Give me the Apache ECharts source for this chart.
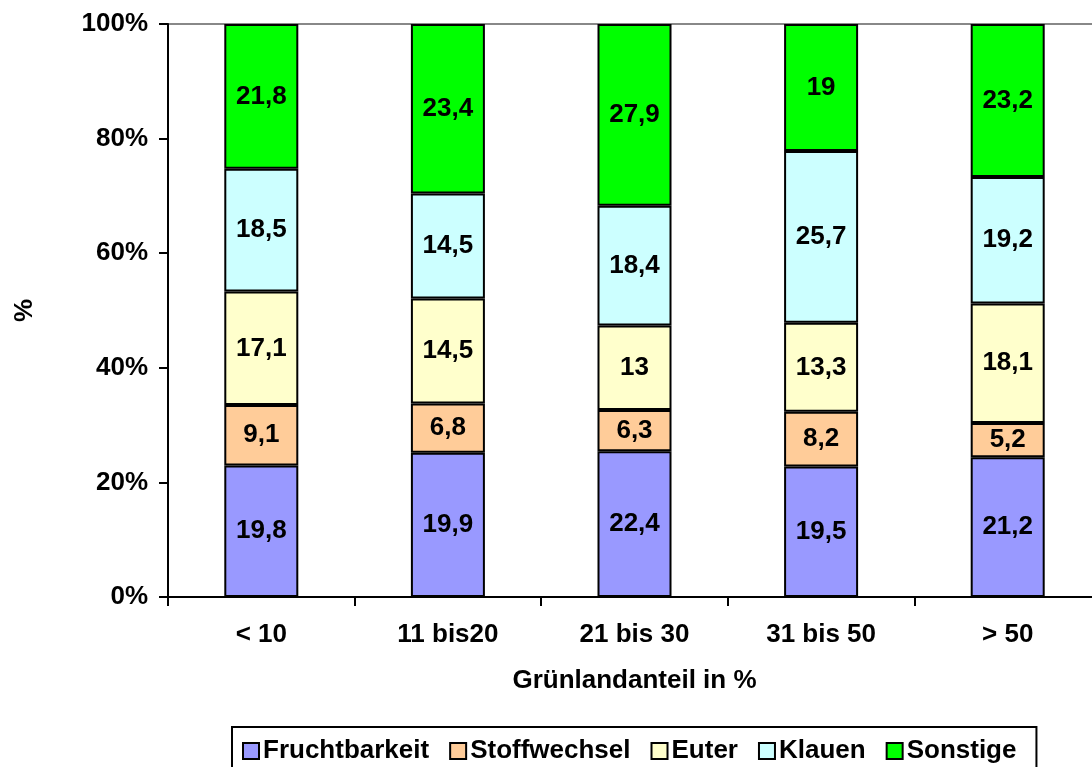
<!DOCTYPE html>
<html>
<head>
<meta charset="utf-8">
<script src="https://cdn.jsdelivr.net/npm/echarts@6/dist/echarts.min.js"></script>
<style>
  html, body { margin: 0; padding: 0; background: #fff; }
  #chart { width: 1092px; height: 767px; }
</style>
</head>
<body>
<div id="chart"></div>
<script>
const categories = ['< 10', '11 bis20', '21 bis 30', '31 bis 50', '> 50'];
const fruchtbarkeit = [19.8, 19.9, 22.4, 19.5, 21.2];
const stoffwechsel = [9.1, 6.8, 6.3, 8.2, 5.2];
const euter = [17.1, 14.5, 13, 13.3, 18.1];
const klauen = [18.5, 14.5, 18.4, 25.7, 19.2];
const sonstige = [21.8, 23.4, 27.9, 19, 23.2];
const yTicks = [0, 20, 40, 60, 80, 100];

const seriesDefs = [
  { name: 'Fruchtbarkeit', values: fruchtbarkeit, color: '#9999FF' },
  { name: 'Stoffwechsel', values: stoffwechsel, color: '#FFCC99' },
  { name: 'Euter', values: euter, color: '#FFFFCC' },
  { name: 'Klauen', values: klauen, color: '#CCFFFF' },
  { name: 'Sonstige', values: sonstige, color: '#00FF00' }
];

// totals per category, bars are drawn as share of 100%
const totals = categories.map((c, i) => seriesDefs.reduce((s, d) => s + d.values[i], 0));

const font = 'Liberation Sans, Arial, sans-serif';
const fs = 26;

const chart = echarts.init(document.getElementById('chart'), null, { renderer: 'canvas' });

chart.setOption({
  animation: false,
  textStyle: { fontFamily: font },
  grid: { left: 168, top: 24, width: 933, height: 573, containLabel: false, outerBoundsMode: 'none' },
  legend: {
    left: 232,
    top: 727,
    data: seriesDefs.map(d => d.name),
    itemWidth: 16,
    itemHeight: 16,
    itemGap: 20,
    padding: [11, 20, 8, 10],
    borderColor: '#000',
    borderWidth: 2,
    icon: 'rect',
    textStyle: { fontFamily: font, fontWeight: 'bold', fontSize: fs, color: '#000', padding: [0, 0, 0, -1] }
  },
  xAxis: {
    type: 'category',
    data: categories,
    name: 'Grünlandanteil in %',
    nameLocation: 'middle',
    nameGap: 71,
    nameTextStyle: { fontFamily: font, fontWeight: 'bold', fontSize: fs, color: '#000' },
    axisLine: { lineStyle: { color: '#000', width: 2 } },
    axisTick: { show: true, length: 9, lineStyle: { color: '#000', width: 2 } },
    axisLabel: { margin: 25, fontFamily: font, fontWeight: 'bold', fontSize: fs, color: '#000' }
  },
  yAxis: {
    type: 'value',
    min: yTicks[0],
    max: yTicks[yTicks.length - 1],
    interval: 20,
    name: '%',
    nameLocation: 'middle',
    nameGap: 130,
    nameRotate: 90,
    nameTextStyle: { fontFamily: font, fontWeight: 'bold', fontSize: fs, color: '#000' },
    axisLine: { show: true, lineStyle: { color: '#000', width: 2 } },
    axisTick: { show: true, length: 9, lineStyle: { color: '#000', width: 2 } },
    axisLabel: { margin: 20, fontFamily: font, fontWeight: 'bold', fontSize: fs, color: '#000', formatter: '{value}%' },
    splitLine: { show: true, lineStyle: { color: ['transparent', 'transparent', 'transparent', 'transparent', 'transparent', '#888'], width: 2 } }
  },
  series: seriesDefs.map(d => ({
    name: d.name,
    type: 'bar',
    stack: 'total',
    barWidth: 74,
    itemStyle: { color: d.color, borderColor: '#000', borderWidth: 2 },
    label: {
      show: true,
      position: 'inside',
      fontFamily: font,
      fontWeight: 'bold',
      fontSize: fs,
      color: '#000',
      formatter: p => String(p.data.raw).replace('.', ',')
    },
    data: d.values.map((v, i) => ({ value: v / totals[i] * 100, raw: v }))
  }))
});
</script>
</body>
</html>
